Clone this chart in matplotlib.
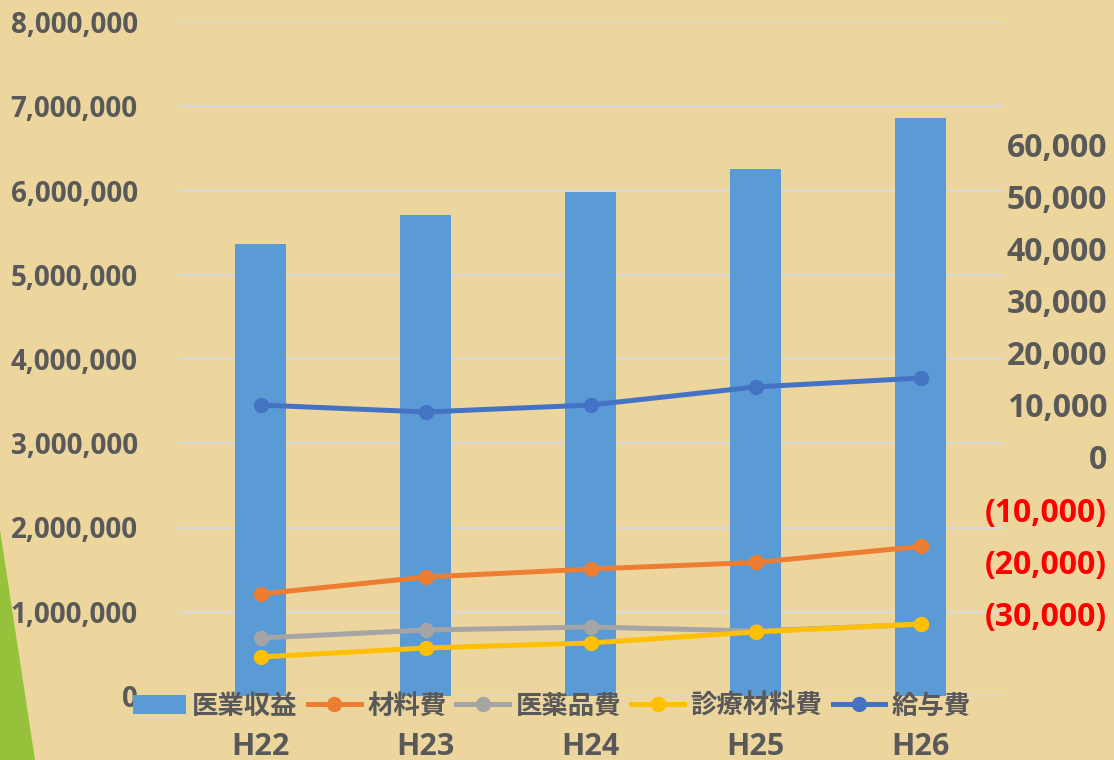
import matplotlib
matplotlib.use("Agg")
import matplotlib.pyplot as plt
from matplotlib.patches import Polygon
from matplotlib.ticker import FuncFormatter

plt.rcParams["font.family"] = ["Open Sans", "Noto Sans CJK JP", "DejaVu Sans"]
plt.rcParams["font.weight"] = "bold"

# data
years = ["H22", "H23", "H24", "H25", "H26"]
revenue = [5365000, 5710000, 5985000, 6255000, 6855000]       # 医業収益
material = [1211000, 1412000, 1507000, 1585000, 1775000]      # 材料費
drug = [688000, 783000, 819000, 771000, 850000]               # 医薬品費
med_material = [463000, 570000, 629000, 760000, 855000]       # 診療材料費
salary = [3454000, 3371000, 3454000, 3668000, 3774000]        # 給与費
right_ticks = [-30000, -20000, -10000, 0, 10000, 20000, 30000, 40000, 50000, 60000]

TEXT = "#595959"
BG = "#EDD59E"


def fmt_left(v, pos):
    return f"{int(v):,}"


def fmt_right(v, pos):
    if v < 0:
        return f"({int(-v):,})"
    return f"{int(v):,}"


def main():
    fig = plt.figure(figsize=(11.14, 7.6), dpi=100)
    fig.patch.set_facecolor(BG)

    # green slide decoration bottom-left
    fig.patches.append(Polygon([(0, 1 - 530 / 760), (35 / 1114, 0), (0, 0)],
                               closed=True, transform=fig.transFigure,
                               facecolor="#95C13B", edgecolor="none", zorder=0))

    ax = fig.add_axes([178 / 1114, 1 - 696 / 760, 825 / 1114, 674 / 760])
    ax.set_facecolor("none")
    x = range(len(years))

    bars = ax.bar(x, revenue, width=0.315, color="#5B9BD5", label="医業収益", zorder=2)
    lw, ms = 3.6, 10
    l1, = ax.plot(x, material, color="#ED7D31", lw=lw, marker="o", ms=ms, label="材料費", zorder=3)
    l2, = ax.plot(x, drug, color="#A5A5A5", lw=lw, marker="o", ms=ms, label="医薬品費", zorder=3)
    l3, = ax.plot(x, med_material, color="#FFC000", lw=lw, marker="o", ms=ms, label="診療材料費", zorder=3)
    l4, = ax.plot(x, salary, color="#4472C4", lw=lw, marker="o", ms=ms, label="給与費", zorder=3)

    ax.set_xlim(-0.5, len(years) - 0.5)
    ax.set_ylim(0, 8000000)
    ax.set_yticks(range(0, 8000001, 1000000))
    ax.yaxis.set_major_formatter(FuncFormatter(fmt_left))
    ax.grid(axis="y", color="#D9D9D9", lw=1.6, zorder=1)
    ax.set_axisbelow(True)
    for s in ax.spines.values():
        s.set_visible(False)
    ax.tick_params(axis="y", length=0, pad=29, labelsize=20, labelcolor=TEXT)
    ax.set_xticks(list(x))
    ax.set_xticklabels(years)
    ax.tick_params(axis="x", length=0, pad=26, labelsize=22, labelcolor=TEXT)

    # secondary axis on the right
    ax2 = ax.twinx()
    ax2.set_ylim(-45960, 83650)
    ax2.set_yticks(right_ticks)
    ax2.yaxis.set_major_formatter(FuncFormatter(fmt_right))
    for s in ax2.spines.values():
        s.set_visible(False)
    ax2.tick_params(axis="y", length=0, pad=75, labelsize=23, labelcolor=TEXT)
    for v, lab in zip(right_ticks, ax2.get_yticklabels()):
        lab.set_horizontalalignment("right")
        if v < 0:
            lab.set_color("#FF0000")

    leg = fig.legend([bars, l1, l2, l3, l4],
                     ["医業収益", "材料費", "医薬品費", "診療材料費", "給与費"],
                     loc="center", bbox_to_anchor=(552 / 1114, 1 - 706 / 760),
                     ncol=5, frameon=False, handlelength=2.0,
                     handletextpad=0.25, columnspacing=0.38,
                     prop={"family": ["Noto Sans CJK JP"], "weight": "bold", "size": 19})
    for t in leg.get_texts():
        t.set_color(TEXT)

    fig.savefig("out.png", dpi=100, facecolor=BG)


if __name__ == "__main__":
    main()
